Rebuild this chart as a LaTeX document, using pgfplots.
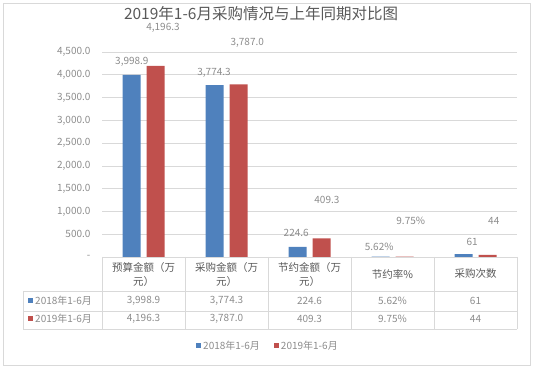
\documentclass[border=0pt]{standalone}
\usepackage{pgfplots}
\pgfplotsset{compat=1.18}
\usepackage{fontspec}
\setmainfont{Noto Sans CJK SC}
\definecolor{sblue}{HTML}{4F81BD}
\definecolor{sred}{HTML}{C0504D}
\definecolor{gridc}{HTML}{D9D9D9}
\definecolor{txt}{HTML}{595959}
\definecolor{lbl}{HTML}{8C8C8C}
\pgfplotstableread{
x v
0 3998.9
1 3774.3
2 224.6
3 5.62
4 61
}\blue
\pgfplotstableread{
x v
0 4196.3
1 3787.0
2 409.3
3 9.75
4 44
}\red
\begin{document}
\begin{tikzpicture}[x=1pt,y=1pt]
\path (0,0) rectangle (534,371);
\draw[gridc, line width=0.75pt] (3,6) rectangle (530,368);
\node[text=txt, inner sep=0pt, font=\fontsize{15.5}{18}\selectfont] at (261,357) {2019年1-6月采购情况与上年同期对比图};
\begin{axis}[
 at={(102pt,114pt)}, anchor=south west, scale only axis,
 width=415pt, height=205pt,
 xmin=-0.5, xmax=4.5, ymin=0, ymax=4500,
 ybar=6pt, bar width=18pt,
 axis line style={draw=none},
 xtick=\empty,
 ytick={0,500,...,4500},
 yticklabels={-\hspace{5pt},500.0,{1,000.0},{1,500.0},{2,000.0},{2,500.0},{3,000.0},{3,500.0},{4,000.0},{4,500.0}},
 ymajorgrids, major grid style={gridc, line width=0.75pt},
 major tick length=0pt,
 yticklabel style={font=\fontsize{10}{12}\selectfont, text=lbl, xshift=-8pt},
 clip=false,
 legend style={at={(0.4,-0.434)}, anchor=center, draw=none, fill=none,
   legend columns=2, font=\fontsize{10}{12}\selectfont, text=lbl,
   /tikz/every even column/.append style={column sep=12pt},
   inner sep=0pt},
 legend image code/.code={\fill[#1] (0pt,-2.5pt) rectangle (5pt,2.5pt);},
]
\addplot[fill=sblue, draw=none] table[x=x,y=v] {\blue};
\addplot[fill=sred, draw=none] table[x=x,y=v] {\red};
\legend{2018年1-6月,2019年1-6月}
\begin{scope}[every node/.style={text=lbl, inner sep=0pt, font=\fontsize{10}{12}\selectfont}]
\node at (axis cs:-0.14,4280) {3,998.9};
\node at (axis cs:0.235,5040) {4,196.3};
\node at (axis cs:0.85,4039) {3,774.3};
\node at (axis cs:1.25,4698) {3,787.0};
\node at (axis cs:1.84,527) {224.6};
\node at (axis cs:2.21,1251) {409.3};
\node at (axis cs:2.84,220) {5.62\%};
\node at (axis cs:3.22,790) {9.75\%};
\node at (axis cs:3.96,329) {61};
\node at (axis cs:4.22,790) {44};
\end{scope}
\end{axis}
% data table
\begin{scope}[gridc, line width=0.75pt]
\foreach \xx in {102,185,268,351,434,517} \draw (\xx,114) -- (\xx,42);
\draw (23,80) -- (517,80);
\draw (23,60) -- (517,60);
\draw (23,42) -- (517,42);
\draw (23,80) -- (23,42);
\end{scope}
\begin{scope}[every node/.style={text=txt, font=\fontsize{10.5}{12}\selectfont}]
\node at (143.5,103) {预算金额（万};
\node at (143.5,89) {元）};
\node at (226.5,103) {采购金额（万};
\node at (226.5,89) {元）};
\node at (309.5,103) {节约金额（万};
\node at (309.5,89) {元）};
\node at (392.5,97) {节约率\%};
\node at (475.5,97) {采购次数};
\end{scope}
\fill[sblue] (28,67.5) rectangle (33,72.5);
\fill[sred] (28,49.5) rectangle (33,54.5);
\begin{scope}[every node/.style={text=lbl, font=\fontsize{10}{12}\selectfont}]
\node[anchor=west, inner sep=0pt] at (35,70) {2018年1-6月};
\node[anchor=west, inner sep=0pt] at (35,52) {2019年1-6月};
\node at (143.5,70) {3,998.9};
\node at (226.5,70) {3,774.3};
\node at (309.5,70) {224.6};
\node at (392.5,70) {5.62\%};
\node at (475.5,70) {61};
\node at (143.5,52) {4,196.3};
\node at (226.5,52) {3,787.0};
\node at (309.5,52) {409.3};
\node at (392.5,52) {9.75\%};
\node at (475.5,52) {44};
\end{scope}
\end{tikzpicture}
\end{document}
